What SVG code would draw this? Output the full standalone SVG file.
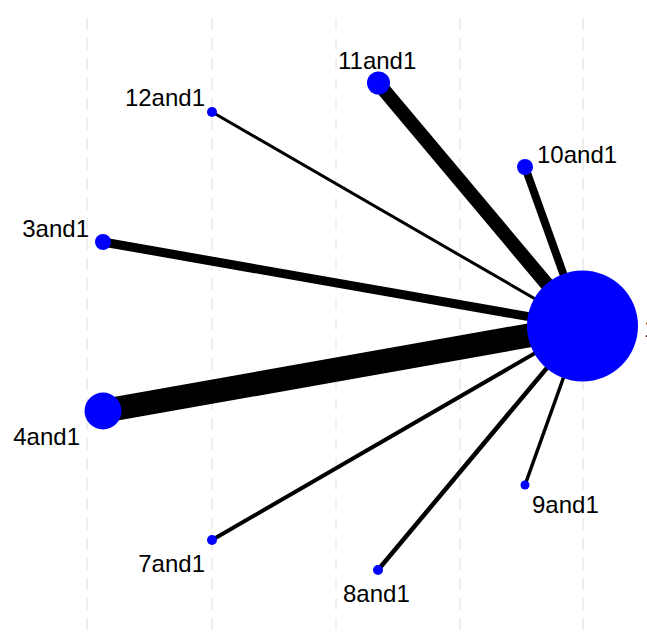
<svg xmlns="http://www.w3.org/2000/svg" width="647" height="637" viewBox="0 0 647 637">
  <style>
    .grid { stroke: #ebebeb; stroke-width: 1.6; stroke-dasharray: 12 8; fill: none; }
    .edge { stroke: #000000; stroke-linecap: butt; fill: none; }
    .node { fill: #0000ff; }
    .label { font-family: "Liberation Sans", Arial, sans-serif; font-size: 24px; fill: #000000; }
  </style>
  <rect width="647" height="637" fill="#ffffff"/>

  <!-- vertical dashed grid -->
  <g id="grid">
    <line class="grid" x1="87" y1="18" x2="87" y2="637"/>
    <line class="grid" x1="212" y1="18" x2="212" y2="637"/>
    <line class="grid" x1="336" y1="18" x2="336" y2="637"/>
    <line class="grid" x1="460" y1="18" x2="460" y2="637"/>
    <line class="grid" x1="583" y1="18" x2="583" y2="637"/>
  </g>

  <!-- connectors from the hub to each comparison -->
  <g id="connectors">
    <line class="edge" x1="582" y1="326" x2="378" y2="83" stroke-width="14"/>
    <line class="edge" x1="582" y1="326" x2="212" y2="112" stroke-width="3"/>
    <line class="edge" x1="582" y1="326" x2="525" y2="167" stroke-width="8"/>
    <line class="edge" x1="582" y1="326" x2="103" y2="242" stroke-width="9"/>
    <line class="edge" x1="582" y1="326" x2="103" y2="411" stroke-width="24"/>
    <line class="edge" x1="582" y1="326" x2="212" y2="540" stroke-width="4"/>
    <line class="edge" x1="582" y1="326" x2="378" y2="570" stroke-width="4.5"/>
    <line class="edge" x1="582" y1="326" x2="525" y2="485" stroke-width="3.5"/>
  </g>

  <g id="node-1">
    <circle class="node" cx="582.5" cy="326" r="55.5"/>
    <text class="label" x="644" y="337">1</text>
  </g>
  <g id="node-11and1">
    <circle class="node" cx="378.5" cy="83" r="11.5"/>
    <text class="label" x="338" y="69">11and1</text>
  </g>
  <g id="node-12and1">
    <circle class="node" cx="212" cy="112" r="5"/>
    <text class="label" x="205" y="106" text-anchor="end">12and1</text>
  </g>
  <g id="node-10and1">
    <circle class="node" cx="525" cy="167" r="8"/>
    <text class="label" x="537" y="163">10and1</text>
  </g>
  <g id="node-3and1">
    <circle class="node" cx="103" cy="242" r="8"/>
    <text class="label" x="89" y="237" text-anchor="end">3and1</text>
  </g>
  <g id="node-4and1">
    <circle class="node" cx="103" cy="411" r="18.5"/>
    <text class="label" x="80" y="445" text-anchor="end">4and1</text>
  </g>
  <g id="node-7and1">
    <circle class="node" cx="212" cy="540" r="5"/>
    <text class="label" x="205" y="572" text-anchor="end">7and1</text>
  </g>
  <g id="node-8and1">
    <circle class="node" cx="378" cy="570" r="5"/>
    <text class="label" x="343" y="602">8and1</text>
  </g>
  <g id="node-9and1">
    <circle class="node" cx="525" cy="485" r="4.5"/>
    <text class="label" x="532" y="513">9and1</text>
  </g>
</svg>
